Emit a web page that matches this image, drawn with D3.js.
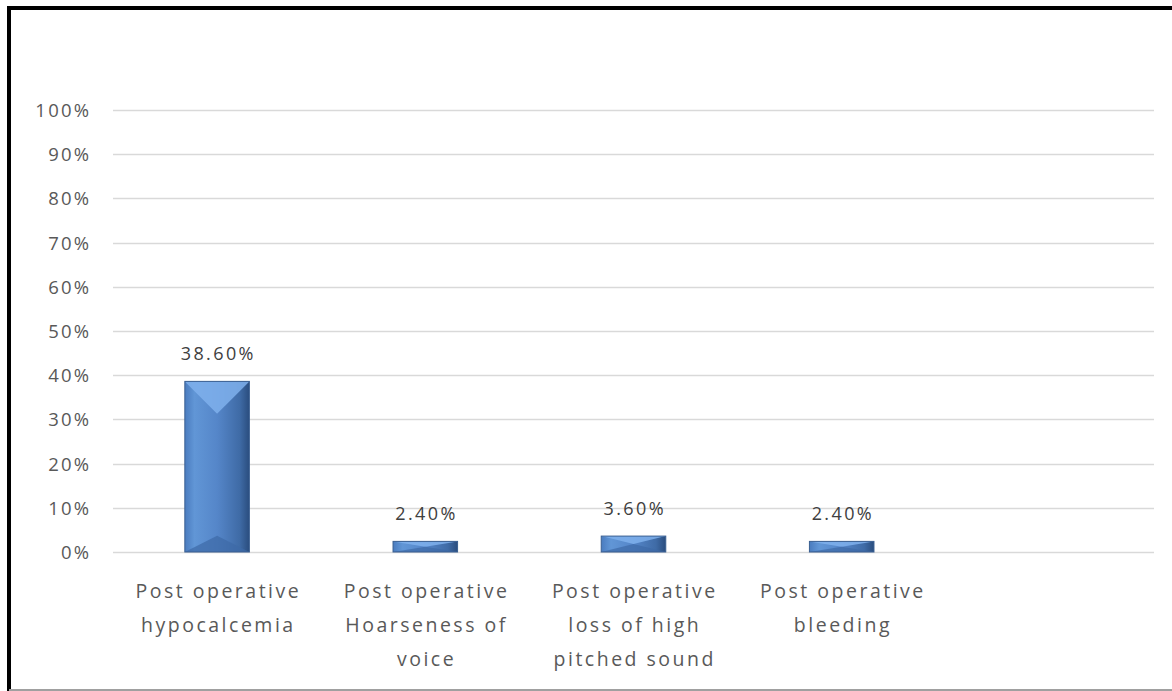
<!DOCTYPE html>
<html><head><meta charset="utf-8">
<script src="https://cdn.jsdelivr.net/npm/d3@7"></script>
<style>body{margin:0;background:#fff}svg{display:block}</style>
</head><body>
<svg id="c" width="1172" height="691"></svg>
<script>
const categories = [
  ["Post operative","hypocalcemia"],
  ["Post operative","Hoarseness of","voice"],
  ["Post operative","loss of high","pitched sound"],
  ["Post operative","bleeding"],
  [""]
];
const values = [38.6, 2.4, 3.6, 2.4, null];
const valueLabels = ["38.60%","2.40%","3.60%","2.40%",""];
const ticks = [0,10,20,30,40,50,60,70,80,90,100];

const svg = d3.select("#c");
const W=1172,H=691;
const L=113, R=1154, T=110, B=552;
const font = "'Open Sans', sans-serif";

// frame
svg.append("rect").attr("x",0).attr("y",0).attr("width",W).attr("height",H).attr("fill","#fff");
svg.append("line").attr("x1",7).attr("x2",W).attr("y1",8).attr("y2",8).attr("stroke","#000").attr("stroke-width",4);
svg.append("line").attr("x1",9).attr("x2",9).attr("y1",6).attr("y2",H).attr("stroke","#000").attr("stroke-width",4);
svg.append("line").attr("x1",9).attr("x2",W).attr("y1",690).attr("y2",690).attr("stroke","#a0a0a0").attr("stroke-width",2);

const x = d3.scaleBand().domain(d3.range(categories.length)).range([L,R]).paddingInner(0.69).paddingOuter(0.345);
const y = d3.scaleLinear().domain([0,100]).range([B,T]);

// grid
svg.append("g").selectAll("line").data(ticks).join("line")
  .attr("x1",L).attr("x2",R).attr("y1",d=>Math.round(y(d))+0.5).attr("y2",d=>Math.round(y(d))+0.5)
  .attr("stroke","#d9d9d9").attr("stroke-width",1.3);

// y labels
const ls = 2.2;
svg.append("g").selectAll("text").data(ticks).join("text")
  .attr("x",89+ls).attr("y",d=>y(d)+7).attr("text-anchor","end")
  .attr("font-family",font).attr("font-size",18.5).attr("fill","#595959").attr("letter-spacing",ls)
  .text(d=>d+"%");

// gradients
const defs = svg.append("defs");
const gh = defs.append("linearGradient").attr("id","gh").attr("x1","0").attr("x2","1").attr("y1","0").attr("y2","0");
gh.append("stop").attr("offset","0").attr("stop-color","#4a7cbf");
gh.append("stop").attr("offset","0.15").attr("stop-color","#6196d6");
gh.append("stop").attr("offset","0.5").attr("stop-color","#5586c9");
gh.append("stop").attr("offset","0.85").attr("stop-color","#3f6ba6");
gh.append("stop").attr("offset","1").attr("stop-color","#2a4d7e");

// bars
const bars = svg.append("g");
values.forEach((v,i)=>{
  if(v==null) return;
  const x0=x(i), w=x.bandwidth(), x1=x0+w, y0=y(v), y1=y(0), h=y1-y0;
  const g = bars.append("g");
  g.append("rect").attr("x",x0).attr("y",y0).attr("width",w).attr("height",h).attr("fill","url(#gh)");
  const bt = Math.min(w/2, h/2);
  const bb = Math.min(w/4, h/2);
  const cx = x0+w/2;
  g.append("path").attr("d",`M${x0},${y0}L${x1},${y0}L${cx},${y0+bt}Z`).attr("fill","#7fb0ec").attr("opacity",0.85);
  g.append("path").attr("d",`M${x0},${y1}L${x1},${y1}L${cx},${y1-bb}Z`).attr("fill","#3d6aa6").attr("opacity",0.7);
  g.append("rect").attr("x",x0).attr("y",y0).attr("width",w).attr("height",h).attr("fill","none").attr("stroke","#3a5f91").attr("stroke-width",1);
});

// value labels
const vs = 2.4;
svg.append("g").selectAll("text").data(values.map((v,i)=>({v,i}))).join("text")
  .filter(d=>d.v!=null)
  .attr("x",d=>x(d.i)+x.bandwidth()/2+vs/2).attr("y",d=>y(d.v)-21)
  .attr("text-anchor","middle").attr("font-family",font).attr("font-size",18).attr("fill","#404040")
  .attr("letter-spacing",vs)
  .text(d=>valueLabels[d.i]);

// category labels
const cs = 2.5;
const cg = svg.append("g");
categories.forEach((lines,i)=>{
  const cx = x(i)+x.bandwidth()/2+cs/2;
  const t = cg.append("text").attr("x",cx).attr("y",598)
    .attr("text-anchor","middle").attr("font-family",font).attr("font-size",19.5)
    .attr("fill","#595959").attr("letter-spacing",cs);
  lines.forEach((ln,k)=>t.append("tspan").attr("x",cx).attr("dy",k?34:0).text(ln));
});
</script>
</body></html>
